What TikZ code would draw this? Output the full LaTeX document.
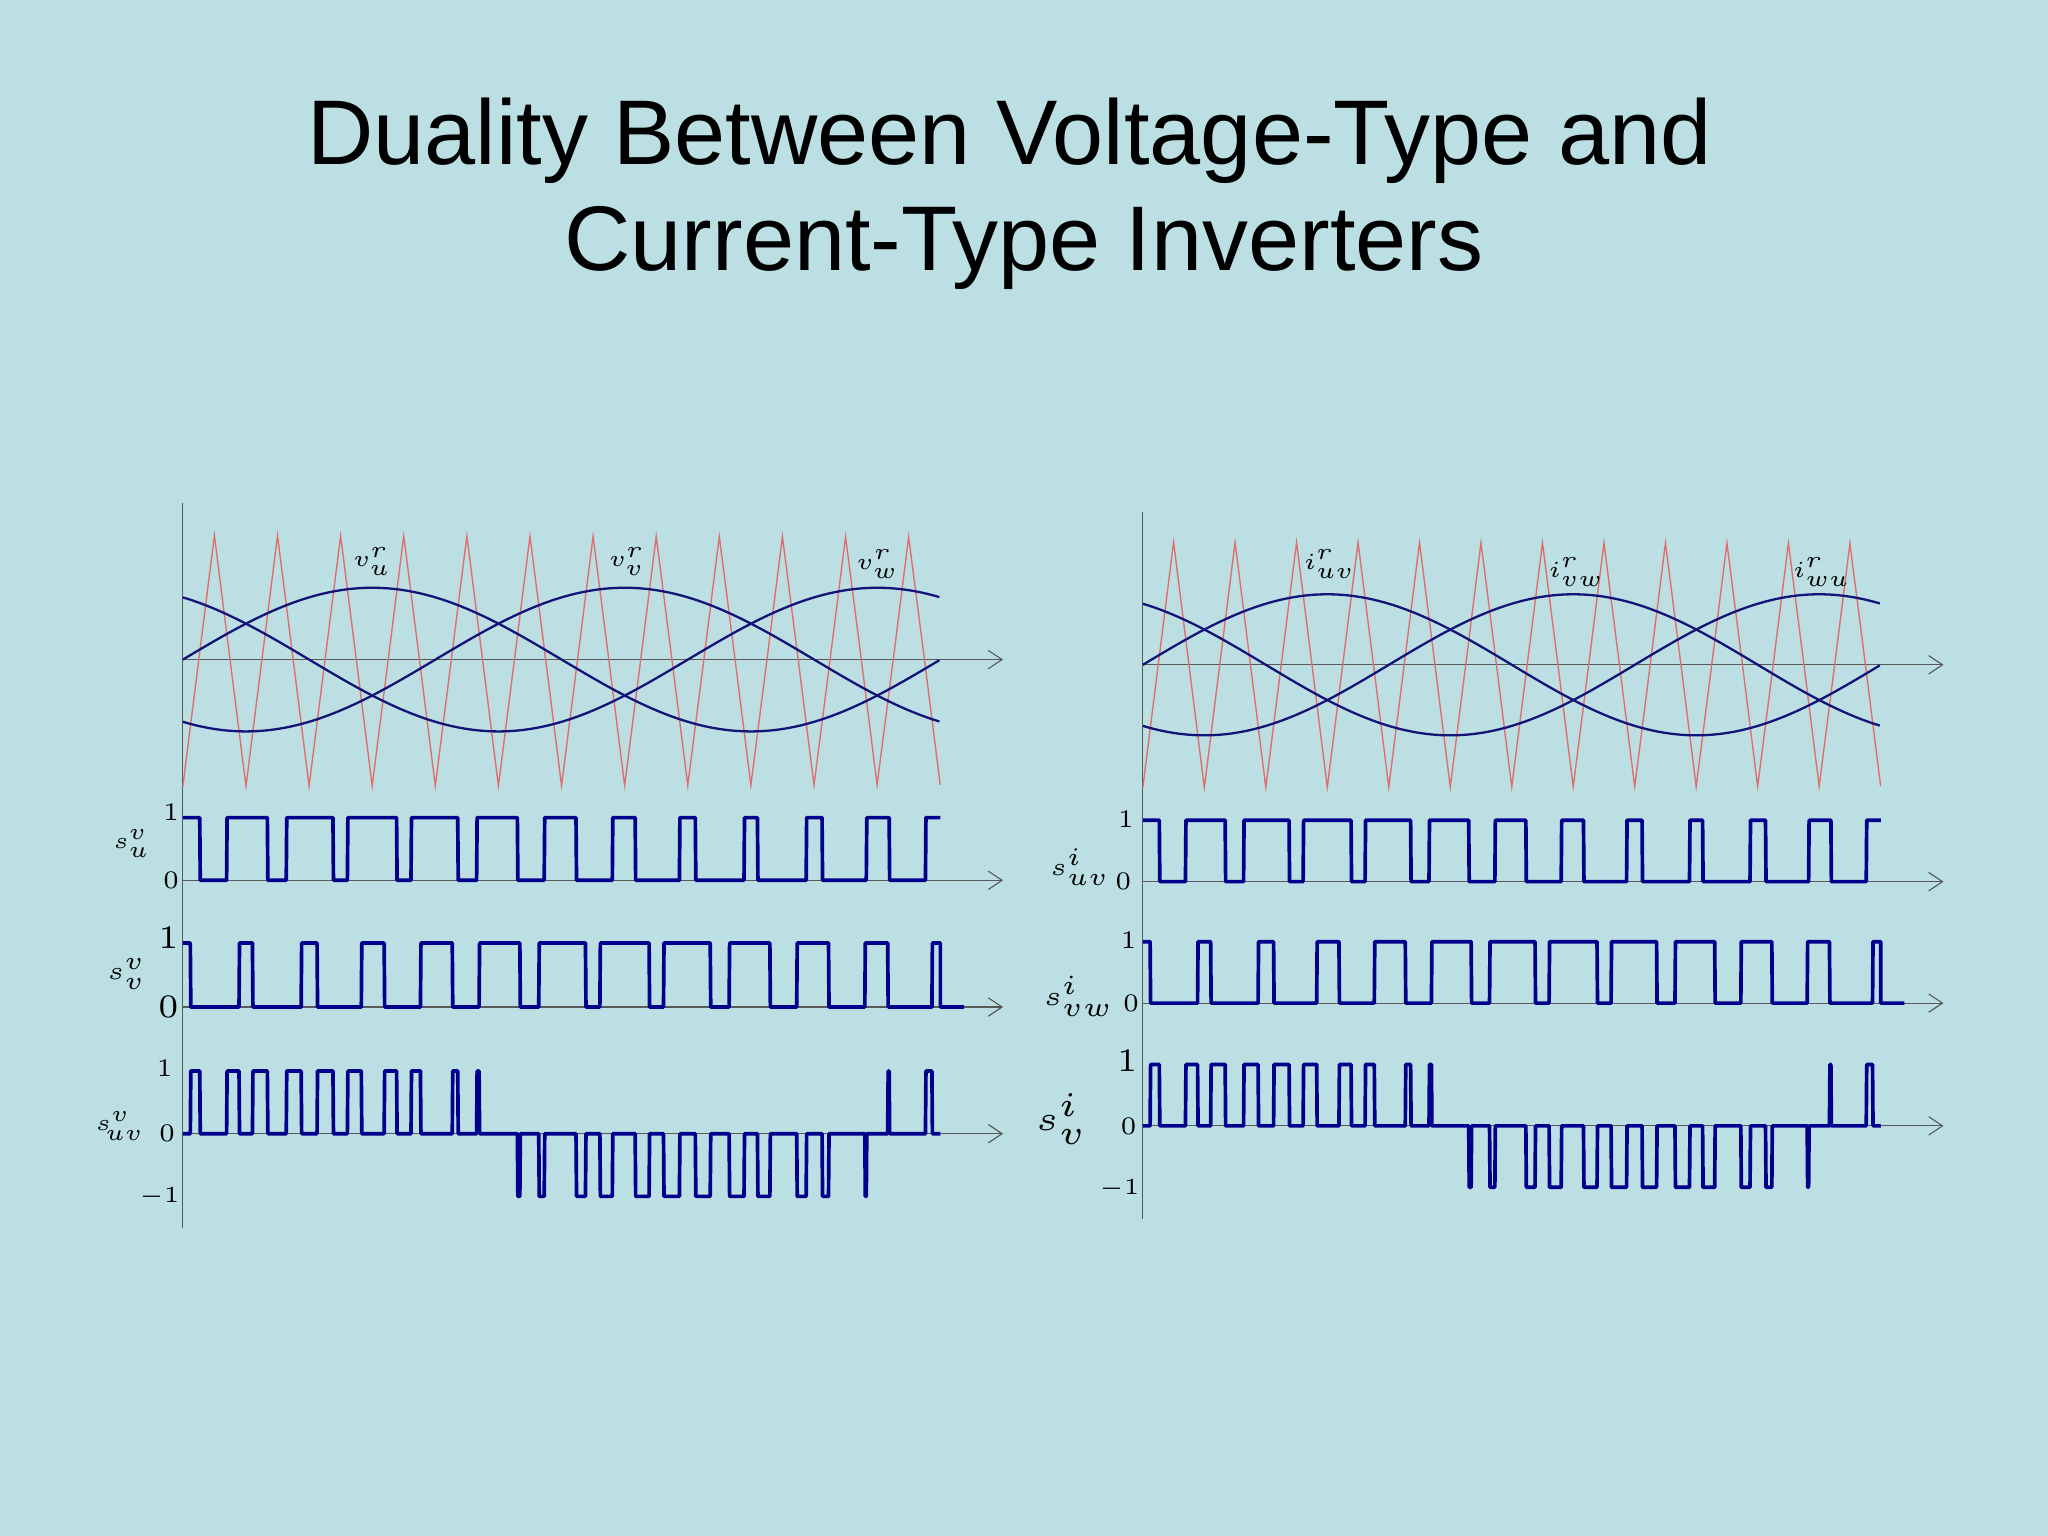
\documentclass[tikz,border=0pt]{standalone}
\usepackage{fontspec}
\newfontfamily\titlefont{Liberation Sans}
\usetikzlibrary{arrows.meta}
\definecolor{bg}{RGB}{187,223,226}
\definecolor{navy}{RGB}{20,20,120}
\definecolor{pul}{RGB}{0,0,140}
\definecolor{car}{RGB}{225,110,110}
\begin{document}
\begin{tikzpicture}[x=0.01cm,y=-0.01cm,
  declare function={tri(\t)=1-4*abs(frac(12*\t)-0.5);
    su(\t)=(0.57*sin(360*\t)>tri(\t))?1:0;
    sv(\t)=(0.57*sin(360*\t-120)>tri(\t))?1:0;},
  ax/.style={draw=gray!70!black,line width=0.25pt},
  axa/.style={ax,-{Straight Barb[length=3pt,width=4pt]}},
  sine/.style={draw=navy,line width=0.5pt},
  carrier/.style={draw=car,line width=0.3pt},
  pulse/.style={draw=pul,line width=0.8pt,line join=round},
  lab/.style={font=\fontsize{5.5}{6.5}\selectfont,inner sep=0pt},
  title/.style={font=\titlefont\fontsize{20}{24}\selectfont}]
\fill[bg] (0,0) rectangle (1568,1176);
\useasboundingbox (0,0) rectangle (1568,1176);
\node[title] (t1) at (773,108) {Duality Between Voltage-Type and};
\node[title] (t2) at (784,190) {Current-Type Inverters};

% ---------- left panel
\draw[ax] (140,385) -- (140,940);
\foreach \yy in {505,674,771,868}{\draw[axa] (140,\yy) -- (768,\yy);}
\draw[carrier] plot[domain=0:1,samples=49] ({140+580*\x},{506-96*tri(\x)});
\draw[sine] plot[domain=0:1,samples=120,smooth] ({140+580*\x},{505-55*sin(360*\x)});
\draw[sine] plot[domain=0:1,samples=120,smooth] ({140+580*\x},{505-55*sin(360*\x-120)});
\draw[sine] plot[domain=0:1,samples=120,smooth] ({140+580*\x},{505-55*sin(360*\x+120)});
\node[lab] (l1) at (285,430) {$v_u^r$};
\node[lab] (l2) at (480,430) {$v_v^r$};
\node[lab] (l3) at (672,432) {$v_w^r$};
\draw[pulse] plot[domain=0:1,samples=1500] ({140+580*\x},{674-48*su(\x)});
\draw[pulse] plot[domain=0:1,samples=1500] ({140+580*\x},{771-49*sv(\x)}) -- (720,771) -- (738,771);
\draw[pulse] plot[domain=0:1,samples=1500] ({140+580*\x},{868-48*(su(\x)-sv(\x))});
\node[lab] (a1) at (131,622) {1};
\node[lab] (a2) at (131,674) {0};
\node[lab] (a3) at (101,646) {$s_u^v$};
\node[lab,scale=1.3] (b1) at (129,718) {1};
\node[lab,scale=1.3] (b2) at (129,771) {0};
\node[lab,scale=1.1] (b3) at (97,746) {$s_v^v$};
\node[lab] (c1) at (126,818) {1};
\node[lab] (c2) at (128,868) {0};
\node[lab] (c3) at (122,916) {$-1$};
\node[lab] (c4) at (92,862) {$s_{\!uv}^v$};

% ---------- right panel
\draw[ax] (875,392) -- (875,933);
\foreach \yy in {509,675,768,862}{\draw[axa] (875,\yy) -- (1488,\yy);}
\draw[carrier] plot[domain=0:1,samples=49] ({875+565*\x},{509-94*tri(\x)});
\draw[sine] plot[domain=0:1,samples=120,smooth] ({875+565*\x},{509-54*sin(360*\x)});
\draw[sine] plot[domain=0:1,samples=120,smooth] ({875+565*\x},{509-54*sin(360*\x-120)});
\draw[sine] plot[domain=0:1,samples=120,smooth] ({875+565*\x},{509-54*sin(360*\x+120)});
\node[lab] (r1) at (1018,432) {$i_{uv}^r$};
\node[lab] (r2) at (1207,438) {$i_{vw}^r$};
\node[lab] (r3) at (1395,438) {$i_{wu}^r$};
\draw[pulse] plot[domain=0:1,samples=1500] ({875+565*\x},{675-47*su(\x)});
\draw[pulse] plot[domain=0:1,samples=1500] ({875+565*\x},{768-47*sv(\x)}) -- (1440,768) -- (1458,768);
\draw[pulse] plot[domain=0:1,samples=1500] ({875+565*\x},{862-47*(su(\x)-sv(\x))});
\node[lab] (d1) at (862,627) {1};
\node[lab] (d2) at (860,675) {0};
\node[lab,scale=1.1] (d3) at (827,664) {$s_{uv}^i$};
\node[lab] (e1) at (864,720) {1};
\node[lab] (e2) at (866,768) {0};
\node[lab,scale=1.2] (e3) at (826,763) {$s_{vw}^i$};
\node[lab,scale=1.3] (f1) at (863,812) {1};
\node[lab] (f2) at (864,862) {0};
\node[lab] (f3) at (857,910) {$-1$};
\node[lab,scale=1.5] (f4) at (813,857) {$s_v^i$};
\end{tikzpicture}
\end{document}
